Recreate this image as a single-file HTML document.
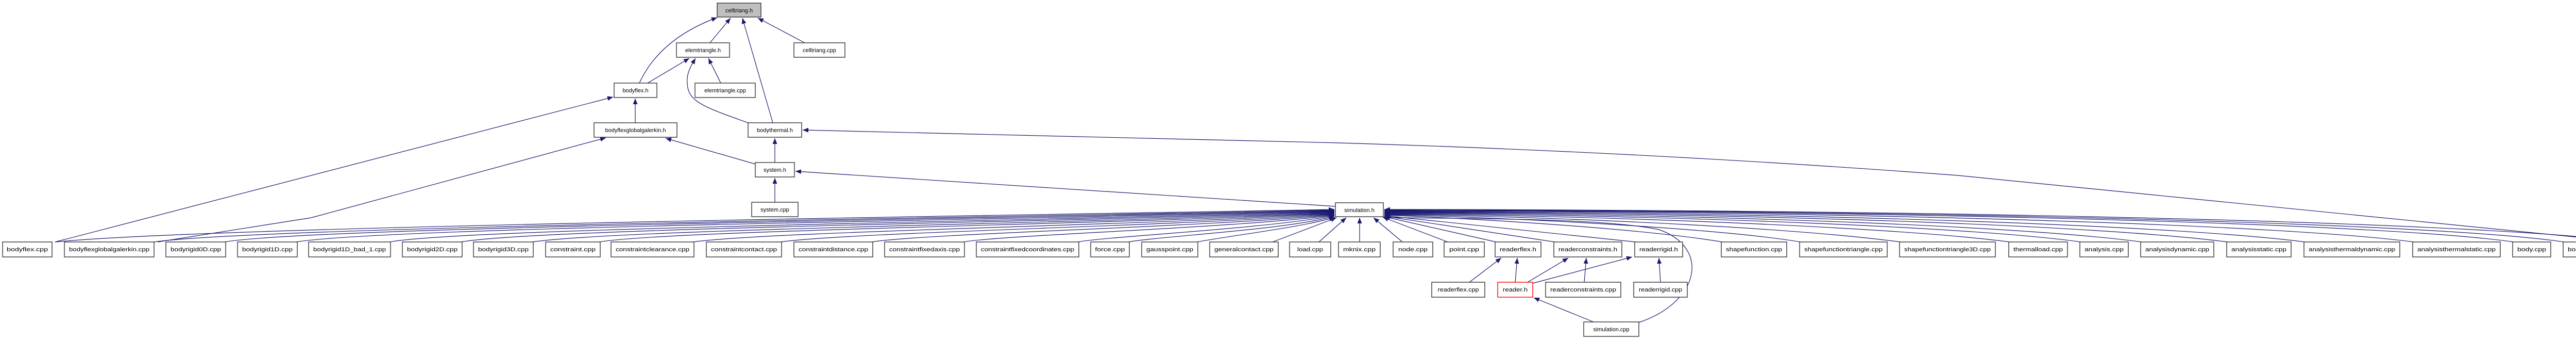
<!DOCTYPE html>
<html><head><meta charset="utf-8"><style>
html,body{margin:0;padding:0;background:#fff;}
svg{display:block;}
text{font-family:"Liberation Sans",sans-serif;fill:#000;}
.n{fill:#fff;stroke:#333;stroke-width:1.4;}
.e{fill:none;stroke:#191970;stroke-width:1.2;}
</style></head><body>
<svg width="5221" height="659" viewBox="0 0 5221 659" xmlns="http://www.w3.org/2000/svg">
<defs><marker id="a" markerUnits="userSpaceOnUse" markerWidth="12" markerHeight="9" refX="11" refY="4.5" orient="auto"><path d="M0,0 L11,4.5 L0,9 z" fill="#191970"/></marker></defs>
<g class="e" marker-end="url(#a)">
<!-- upper -->
<path d="M1378,83 L1418,35"/>
<path d="M1241,161 C1260,120 1300,68 1392,34"/>
<path d="M1500,238 L1441,35"/>
<path d="M1562,83 L1471,35"/>
<path d="M1257,161 L1338,113"/>
<path d="M1399,161 L1375,113"/>
<path d="M1452,238 C1380,212 1340,200 1335,170 C1330,145 1340,130 1350,113"/>
<path d="M1233,238 L1233,191"/>
<path d="M1504,315 L1504,268"/>
<path d="M1504,392 L1504,345"/>
<path d="M107,469 L1190,188"/>
<path d="M306,469 L604,422 L1176,267"/>
<path d="M1466,318 L1292,268"/>
<path d="M5096,469 L3800,340 Q3200,295 2600,277 L1558,252"/>
<path d="M2592,400 L1544,332"/>
<!-- reader -->
<path d="M2852,547 L2914,500"/>
<path d="M2941,547 L2945,500"/>
<path d="M2965,547 L3044,500"/>
<path d="M3075,547 L3079,500"/>
<path d="M2975,549 L3168,498"/>
<path d="M3223,547 L3220,500"/>
<path d="M3093,624 L2977,577"/>
<path d="M3181,625 C3300,585 3320,480 3220,445 C3100,420 2800,425 2685,421"/>
<!-- left to simulation.h -->
<path d="M107,469 C400,440 1800,420 2590,406"/>
<path d="M299,469 C500,440 1900,422 2590,407"/>
<path d="M436,469 C600,440 1950,424 2590,408"/>
<path d="M575,469 C750,440 2000,426 2590,409"/>
<path d="M756,469 C900,442 2050,428 2590,410"/>
<path d="M895,469 C1050,442 2100,430 2590,411"/>
<path d="M1033,469 C1200,444 2150,432 2590,412"/>
<path d="M1163,469 C1300,446 2200,434 2590,413"/>
<path d="M1345,469 C1500,448 2250,436 2590,414"/>
<path d="M1515,469 C1650,450 2300,438 2590,415"/>
<path d="M1692,469 C1800,452 2350,440 2590,416"/>
<path d="M1870,469 C1950,455 2400,442 2590,417"/>
<path d="M2092,469 C2150,458 2450,444 2590,418"/>
<path d="M2190,469 C2250,458 2500,445 2590,419"/>
<path d="M2323,469 C2400,455 2530,440 2591,421"/>
<path d="M2470,469 L2594,422"/>
<path d="M2560,469 L2613,422"/>
<path d="M2639,469 L2639,422"/>
<!-- right to simulation.h -->
<path d="M2722,469 L2666,422"/>
<path d="M2810,469 L2684,421"/>
<path d="M2904,469 L2687,420"/>
<path d="M3018,469 L2687,419"/>
<path d="M3175,469 L2687,418"/>
<path d="M3343,469 C3200,445 2900,425 2687,417"/>
<path d="M3495,469 C3350,445 3000,424 2687,416"/>
<path d="M3689,469 C3500,444 3100,422 2687,415"/>
<path d="M3901,469 C3700,443 3200,420 2687,414"/>
<path d="M4039,469 C3850,442 3300,418 2687,413"/>
<path d="M4157,469 C3950,441 3400,416 2687,412"/>
<path d="M4324,469 C4100,440 3500,414 2687,411"/>
<path d="M4474,469 C4250,440 3600,412 2687,410"/>
<path d="M4685,469 C4450,438 3700,410 2687,409"/>
<path d="M4879,469 C4650,436 3800,409 2687,408"/>
<path d="M4977,469 C4750,435 3850,408 2687,407"/>
<path d="M5100,469 C4850,434 3900,407 2687,406"/>
</g>
<!-- upper nodes -->
<rect x="1392" y="6" width="85" height="27" style="fill:#bfbfbf;stroke:#333;stroke-width:1.4"/>
<text x="1434.5" y="24" font-size="11" text-anchor="middle">celltriang.h</text>
<rect class="n" x="1313" y="83" width="103" height="28"/><text x="1364.5" y="101" font-size="11" text-anchor="middle">elemtriangle.h</text>
<rect class="n" x="1541" y="83" width="99" height="28"/><text x="1590.5" y="101" font-size="11" text-anchor="middle">celltriang.cpp</text>
<rect class="n" x="1192" y="161" width="83" height="28"/><text x="1233.5" y="179" font-size="11" text-anchor="middle">bodyflex.h</text>
<rect class="n" x="1349" y="161" width="117" height="28"/><text x="1407.5" y="179" font-size="11" text-anchor="middle">elemtriangle.cpp</text>
<rect class="n" x="1153" y="238" width="161" height="28"/><text x="1233.5" y="256" font-size="11" text-anchor="middle">bodyflexglobalgalerkin.h</text>
<rect class="n" x="1452" y="238" width="104" height="28"/><text x="1504" y="256" font-size="11" text-anchor="middle">bodythermal.h</text>
<rect class="n" x="1466" y="315" width="76" height="28"/><text x="1504" y="333" font-size="11" text-anchor="middle">system.h</text>
<rect class="n" x="1459" y="392" width="90" height="28"/><text x="1504" y="410" font-size="11" text-anchor="middle">system.cpp</text>
<rect class="n" x="2592" y="393" width="93" height="27"/><text x="2638.5" y="411" font-size="11" text-anchor="middle">simulation.h</text>
<!-- reader row -->
<rect class="n" x="2779" y="547" width="103" height="29"/><text x="2830.5" y="565" font-size="11" text-anchor="middle" textLength="80" lengthAdjust="spacingAndGlyphs">readerflex.cpp</text>
<rect x="2907" y="547" width="68" height="29" style="fill:#fff;stroke:#f00;stroke-width:1.4"/><text x="2941" y="565" font-size="11" text-anchor="middle" textLength="48" lengthAdjust="spacingAndGlyphs">reader.h</text>
<rect class="n" x="3000" y="547" width="146" height="29"/><text x="3073" y="565" font-size="11" text-anchor="middle" textLength="128" lengthAdjust="spacingAndGlyphs">readerconstraints.cpp</text>
<rect class="n" x="3171" y="547" width="104" height="29"/><text x="3223" y="565" font-size="11" text-anchor="middle" textLength="84" lengthAdjust="spacingAndGlyphs">readerrigid.cpp</text>
<rect class="n" x="3074" y="624" width="107" height="28"/><text x="3127.5" y="642" font-size="11" text-anchor="middle">simulation.cpp</text>
<!-- bottom row -->
<g font-size="11" text-anchor="middle">
<rect class="n" x="5" y="469" width="96" height="29"/><text x="53" y="487" textLength="80" lengthAdjust="spacingAndGlyphs">bodyflex.cpp</text>
<rect class="n" x="125" y="469" width="174" height="29"/><text x="212" y="487" textLength="156" lengthAdjust="spacingAndGlyphs">bodyflexglobalgalerkin.cpp</text>
<rect class="n" x="322" y="469" width="116" height="29"/><text x="380" y="487" textLength="98" lengthAdjust="spacingAndGlyphs">bodyrigid0D.cpp</text>
<rect class="n" x="461" y="469" width="116" height="29"/><text x="519" y="487" textLength="98" lengthAdjust="spacingAndGlyphs">bodyrigid1D.cpp</text>
<rect class="n" x="599" y="469" width="159" height="29"/><text x="678.5" y="487" textLength="141" lengthAdjust="spacingAndGlyphs">bodyrigid1D_bad_1.cpp</text>
<rect class="n" x="781" y="469" width="116" height="29"/><text x="839" y="487" textLength="98" lengthAdjust="spacingAndGlyphs">bodyrigid2D.cpp</text>
<rect class="n" x="919" y="469" width="116" height="29"/><text x="977" y="487" textLength="98" lengthAdjust="spacingAndGlyphs">bodyrigid3D.cpp</text>
<rect class="n" x="1059" y="469" width="106" height="29"/><text x="1112" y="487" textLength="88" lengthAdjust="spacingAndGlyphs">constraint.cpp</text>
<rect class="n" x="1186" y="469" width="161" height="29"/><text x="1266.5" y="487" textLength="143" lengthAdjust="spacingAndGlyphs">constraintclearance.cpp</text>
<rect class="n" x="1371" y="469" width="146" height="29"/><text x="1444" y="487" textLength="128" lengthAdjust="spacingAndGlyphs">constraintcontact.cpp</text>
<rect class="n" x="1541" y="469" width="153" height="29"/><text x="1617.5" y="487" textLength="135" lengthAdjust="spacingAndGlyphs">constraintdistance.cpp</text>
<rect class="n" x="1717" y="469" width="155" height="29"/><text x="1794.5" y="487" textLength="137" lengthAdjust="spacingAndGlyphs">constraintfixedaxis.cpp</text>
<rect class="n" x="1895" y="469" width="199" height="29"/><text x="1994.5" y="487" textLength="181" lengthAdjust="spacingAndGlyphs">constraintfixedcoordinates.cpp</text>
<rect class="n" x="2117" y="469" width="75" height="29"/><text x="2154.5" y="487" textLength="58" lengthAdjust="spacingAndGlyphs">force.cpp</text>
<rect class="n" x="2216" y="469" width="109" height="29"/><text x="2270.5" y="487" textLength="91" lengthAdjust="spacingAndGlyphs">gausspoint.cpp</text>
<rect class="n" x="2348" y="469" width="133" height="29"/><text x="2414.5" y="487" textLength="115" lengthAdjust="spacingAndGlyphs">generalcontact.cpp</text>
<rect class="n" x="2503" y="469" width="80" height="29"/><text x="2543" y="487" textLength="50" lengthAdjust="spacingAndGlyphs">load.cpp</text>
<rect class="n" x="2598" y="469" width="81" height="29"/><text x="2638.5" y="487" textLength="63" lengthAdjust="spacingAndGlyphs">mknix.cpp</text>
<rect class="n" x="2704" y="469" width="77" height="29"/><text x="2742.5" y="487" textLength="57" lengthAdjust="spacingAndGlyphs">node.cpp</text>
<rect class="n" x="2803" y="469" width="78" height="29"/><text x="2842" y="487" textLength="58" lengthAdjust="spacingAndGlyphs">point.cpp</text>
<rect class="n" x="2902" y="469" width="89" height="29"/><text x="2946.5" y="487" textLength="71" lengthAdjust="spacingAndGlyphs">readerflex.h</text>
<rect class="n" x="3016" y="469" width="132" height="29"/><text x="3082" y="487" textLength="114" lengthAdjust="spacingAndGlyphs">readerconstraints.h</text>
<rect class="n" x="3173" y="469" width="93" height="29"/><text x="3219.5" y="487" textLength="75" lengthAdjust="spacingAndGlyphs">readerrigid.h</text>
<rect class="n" x="3341" y="469" width="127" height="29"/><text x="3404.5" y="487" textLength="109" lengthAdjust="spacingAndGlyphs">shapefunction.cpp</text>
<rect class="n" x="3493" y="469" width="170" height="29"/><text x="3578" y="487" textLength="152" lengthAdjust="spacingAndGlyphs">shapefunctiontriangle.cpp</text>
<rect class="n" x="3687" y="469" width="186" height="29"/><text x="3780" y="487" textLength="168" lengthAdjust="spacingAndGlyphs">shapefunctiontriangle3D.cpp</text>
<rect class="n" x="3899" y="469" width="114" height="29"/><text x="3956" y="487" textLength="96" lengthAdjust="spacingAndGlyphs">thermalload.cpp</text>
<rect class="n" x="4037" y="469" width="94" height="29"/><text x="4084" y="487" textLength="76" lengthAdjust="spacingAndGlyphs">analysis.cpp</text>
<rect class="n" x="4155" y="469" width="142" height="29"/><text x="4226" y="487" textLength="124" lengthAdjust="spacingAndGlyphs">analysisdynamic.cpp</text>
<rect class="n" x="4322" y="469" width="125" height="29"/><text x="4384.5" y="487" textLength="107" lengthAdjust="spacingAndGlyphs">analysisstatic.cpp</text>
<rect class="n" x="4472" y="469" width="186" height="29"/><text x="4565" y="487" textLength="168" lengthAdjust="spacingAndGlyphs">analysisthermaldynamic.cpp</text>
<rect class="n" x="4683" y="469" width="170" height="29"/><text x="4768" y="487" textLength="152" lengthAdjust="spacingAndGlyphs">analysisthermalstatic.cpp</text>
<rect class="n" x="4877" y="469" width="74" height="29"/><text x="4914" y="487" textLength="56" lengthAdjust="spacingAndGlyphs">body.cpp</text>
<rect class="n" x="4975" y="469" width="98" height="29"/><text x="5024" y="487" textLength="80" lengthAdjust="spacingAndGlyphs">bodyrigid.cpp</text>
<rect class="n" x="5098" y="469" width="119" height="29"/><text x="5157.5" y="487" textLength="101" lengthAdjust="spacingAndGlyphs">bodythermal.cpp</text>
</g>
</svg>
</body></html>
